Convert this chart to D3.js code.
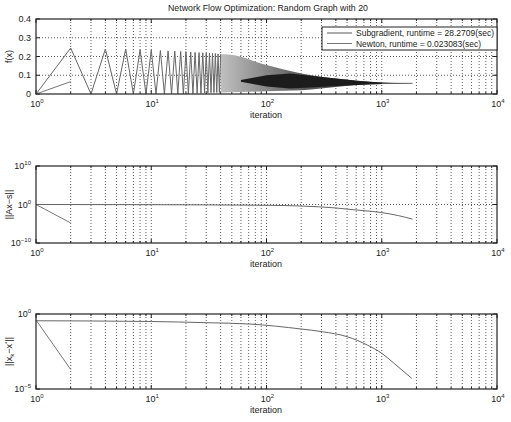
<!DOCTYPE html>
<html>
<head>
<meta charset="utf-8">
<script src="https://d3js.org/d3.v7.min.js"></script>
<style>
  body { margin: 0; background: #fff; }
  svg { font-family: "Liberation Sans", Arial, sans-serif; }
  .grid { stroke: #333; stroke-dasharray: 1,2; stroke-width: 0.8; }
</style>
</head>
<body>
<svg id="chart" width="511" height="422"></svg>
<script>
// --- data ---
const titleText = "Network Flow Optimization: Random Graph with 20";
const legendLabels = ["Subgradient, runtime = 28.2709(sec)", "Newton, runtime = 0.023083(sec)"];

// panel 1: f(x), subgradient early iterations (1..40), one value per iteration
const sgEarly = [0, 0.245, 0, 0.24, 0, 0.24, 0, 0.236, 0, 0.235,
                 0, 0.232, 0, 0.23, 0, 0.229, 0, 0.227, 0, 0.226,
                 0.001, 0.224, 0.002, 0.222, 0.003, 0.221, 0.004, 0.22, 0.005, 0.219,
                 0.006, 0.218, 0.007, 0.217, 0.008, 0.216, 0.008, 0.214, 0.008, 0.212];
// dense part of the subgradient oscillation: envelope (iteration, upper, lower)
const bandIter = [40, 48, 100, 200, 440, 800, 1850];
const bandHi   = [0.212, 0.21, 0.155, 0.11, 0.08, 0.064, 0.057];
const bandLo   = [0.008, 0.01, 0.015, 0.02, 0.04, 0.053, 0.057];
// darker core of the oscillation
const coreIter = [60, 100, 160, 315, 620, 1050, 1850];
const coreHi   = [0.075, 0.1, 0.11, 0.089, 0.071, 0.06, 0.057];
const coreLo   = [0.065, 0.04, 0.03, 0.039, 0.048, 0.053, 0.057];
const newtonF  = [[1, 0], [2, 0.066]];

// panel 2: ||Ax - s|| (log10 values)
const sgResIter = [1, 10, 100, 200, 400, 540, 700, 1000, 1400, 1850];
const sgResLog  = [0, -0.05, -0.2, -0.4, -0.9, -1.3, -1.6, -2.1, -2.9, -3.8];
const newtonRes = [[1, 0], [2, -4.8]];

// panel 3: ||x_k - x*|| (log10 values)
const sgErrIter = [1, 10, 30, 72, 200, 305, 500, 750, 1000, 1280, 1560, 1820];
const sgErrLog  = [-0.45, -0.5, -0.58, -0.67, -1.0, -1.18, -1.51, -2.07, -2.62, -3.29, -3.85, -4.29];
const newtonErr = [[1, -0.4], [2, -3.7]];

const xMajor = [0, 1, 2, 3, 4];

// --- layout ---
const svg = d3.select("#chart");
const x = d3.scaleLog().domain([1, 1e4]).range([36, 497]);
const panels = [
  {top: 19, bottom: 94},
  {top: 166, bottom: 243},
  {top: 314, bottom: 389}
];
const lineCol = "#666";
const axCol = "#222";

const xMinor = [];
xMajor.slice(0, -1).forEach(e => { for (let m = 2; m <= 9; m++) xMinor.push(m * Math.pow(10, e)); });

function tenLabel(g, xp, yp, exp, anchor) {
  const t = g.append("text").attr("x", xp).attr("y", yp)
    .attr("font-size", 9).attr("fill", axCol).attr("text-anchor", anchor);
  t.append("tspan").text("10");
  t.append("tspan").attr("dy", -4).attr("font-size", 6).text(exp);
}

function drawFrame(p, y, yTicks, yGrid, yLabelFn, ylabel) {
  const g = svg.append("g");
  const [x0, x1] = x.range();
  // vertical grid (major + minor)
  xMajor.slice(1, -1).concat(xMinor.map(v => Math.log10(v))).forEach(e => {
    const xp = x(Math.pow(10, e));
    g.append("line").attr("class", "grid")
      .attr("x1", xp).attr("x2", xp).attr("y1", p.top).attr("y2", p.bottom);
  });
  yGrid.forEach(v => {
    g.append("line").attr("class", "grid")
      .attr("x1", x0).attr("x2", x1).attr("y1", y(v)).attr("y2", y(v));
  });
  // ticks inside the box
  xMajor.map(e => Math.pow(10, e)).forEach(v => {
    const xp = x(v);
    g.append("line").attr("x1", xp).attr("x2", xp).attr("y1", p.bottom).attr("y2", p.bottom - 4).attr("stroke", axCol);
    g.append("line").attr("x1", xp).attr("x2", xp).attr("y1", p.top).attr("y2", p.top + 4).attr("stroke", axCol);
  });
  xMinor.forEach(v => {
    const xp = x(v);
    g.append("line").attr("x1", xp).attr("x2", xp).attr("y1", p.bottom).attr("y2", p.bottom - 2).attr("stroke", axCol);
    g.append("line").attr("x1", xp).attr("x2", xp).attr("y1", p.top).attr("y2", p.top + 2).attr("stroke", axCol);
  });
  yTicks.forEach(v => {
    g.append("line").attr("x1", x0).attr("x2", x0 + 4).attr("y1", y(v)).attr("y2", y(v)).attr("stroke", axCol);
    g.append("line").attr("x1", x1).attr("x2", x1 - 4).attr("y1", y(v)).attr("y2", y(v)).attr("stroke", axCol);
    yLabelFn(g, v);
  });
  // x tick labels
  xMajor.forEach(e => tenLabel(g, x(Math.pow(10, e)) + 1, p.bottom + 13, String(e), "middle"));
  g.append("text").attr("x", 266).attr("y", p.bottom + 24).attr("font-size", 9)
    .attr("fill", axCol).attr("text-anchor", "middle").text("iteration");
  // y label
  const yl = g.append("text")
    .attr("transform", `translate(12,${(p.top + p.bottom) / 2}) rotate(-90)`)
    .attr("font-size", 9).attr("fill", axCol).attr("text-anchor", "middle");
  ylabel(yl);
  return g;
}

function drawBox(p) {
  svg.append("rect").attr("x", x.range()[0]).attr("y", p.top)
    .attr("width", x.range()[1] - x.range()[0]).attr("height", p.bottom - p.top)
    .attr("fill", "none").attr("stroke", axCol).attr("stroke-width", 1.2);
}

// gradient for the packed oscillation (lines blend into grey as they get denser)
const grad = svg.append("defs").append("linearGradient").attr("id", "dense")
  .attr("gradientUnits", "userSpaceOnUse")
  .attr("x1", x(40)).attr("x2", x(220)).attr("y1", 0).attr("y2", 0);
grad.append("stop").attr("offset", 0).attr("stop-color", "#c0c0c0");
grad.append("stop").attr("offset", 1).attr("stop-color", "#555");

// ---------- panel 1 ----------
const p1 = panels[0];
const y1 = d3.scaleLinear().domain([0, 0.4]).range([p1.bottom, p1.top]);
drawFrame(p1, y1, [0, 0.1, 0.2, 0.3, 0.4], [0.1, 0.2, 0.3],
  (g, v) => g.append("text").attr("x", 31).attr("y", y1(v) + 3).attr("font-size", 9)
    .attr("fill", axCol).attr("text-anchor", "end").text(v === 0 ? "0" : d3.format(".1f")(v)),
  t => t.text("f(x)"));

const band = d3.area().x((d, i) => x(bandIter[i])).y0((d, i) => y1(bandLo[i])).y1((d, i) => y1(bandHi[i]))
  .curve(d3.curveMonotoneX);
svg.append("path").datum(bandIter).attr("d", band).attr("fill", "url(#dense)");
const core = d3.area().x((d, i) => x(coreIter[i])).y0((d, i) => y1(coreLo[i])).y1((d, i) => y1(coreHi[i]));
svg.append("path").datum(coreIter).attr("d", core).attr("fill", "#1c1c1c");
svg.append("path").datum(sgEarly)
  .attr("d", d3.line().x((d, i) => x(i + 1)).y(d => y1(d)))
  .attr("fill", "none").attr("stroke", lineCol).attr("stroke-width", 1);
svg.append("line").attr("x1", x(1000)).attr("x2", x(1850)).attr("y1", y1(0.057)).attr("y2", y1(0.057))
  .attr("stroke", lineCol);
svg.append("path").datum(newtonF)
  .attr("d", d3.line().x(d => x(d[0])).y(d => y1(d[1])))
  .attr("fill", "none").attr("stroke", "#777").attr("stroke-width", 1);
drawBox(p1);

// legend
const lg = svg.append("g");
lg.append("rect").attr("x", 322).attr("y", 27).attr("width", 175).attr("height", 23)
  .attr("fill", "#fff").attr("stroke", axCol).attr("stroke-width", 1);
legendLabels.forEach((lab, i) => {
  const yy = 33 + i * 10.5;
  lg.append("line").attr("x1", 327).attr("x2", 352).attr("y1", yy).attr("y2", yy)
    .attr("stroke", i === 0 ? "#555" : "#777").attr("stroke-width", 1);
  lg.append("text").attr("x", 356).attr("y", yy + 3).attr("font-size", 8.5)
    .attr("textLength", i === 0 ? 138 : 125).attr("lengthAdjust", "spacingAndGlyphs")
    .attr("fill", axCol).text(lab);
});

// title
svg.append("text").attr("x", 268).attr("y", 11).attr("font-size", 8.8).attr("fill", axCol)
  .attr("text-anchor", "middle").text(titleText);

// ---------- panel 2 ----------
const p2 = panels[1];
const y2 = d3.scaleLinear().domain([-10, 10]).range([p2.bottom, p2.top]);
drawFrame(p2, y2, [-10, 0, 10], [0],
  (g, v) => tenLabel(g, 31, y2(v) + 3, v === 0 ? "0" : (v < 0 ? "\u221210" : "10"), "end"),
  t => t.text("||Ax\u2212s||"));
svg.append("path").datum(sgResIter)
  .attr("d", d3.line().x(d => x(d)).y((d, i) => y2(sgResLog[i])).curve(d3.curveMonotoneX))
  .attr("fill", "none").attr("stroke", lineCol).attr("stroke-width", 1);
svg.append("path").datum(newtonRes)
  .attr("d", d3.line().x(d => x(d[0])).y(d => y2(d[1])))
  .attr("fill", "none").attr("stroke", "#777").attr("stroke-width", 1);
drawBox(p2);

// ---------- panel 3 ----------
const p3 = panels[2];
const y3 = d3.scaleLinear().domain([-5, 0]).range([p3.bottom, p3.top]);
drawFrame(p3, y3, [-5, 0], [],
  (g, v) => tenLabel(g, 31, y3(v) + 3, v === 0 ? "0" : "\u22125", "end"),
  t => {
    t.append("tspan").text("||x");
    t.append("tspan").attr("font-size", 6).attr("dy", 2).text("k");
    t.append("tspan").attr("dy", -2).text("\u2212x");
    t.append("tspan").attr("font-size", 6).attr("dy", -3).text("*");
    t.append("tspan").attr("dy", 3).text("||");
  });
svg.append("path").datum(sgErrIter)
  .attr("d", d3.line().x(d => x(d)).y((d, i) => y3(sgErrLog[i])).curve(d3.curveMonotoneX))
  .attr("fill", "none").attr("stroke", lineCol).attr("stroke-width", 1);
svg.append("path").datum(newtonErr)
  .attr("d", d3.line().x(d => x(d[0])).y(d => y3(d[1])))
  .attr("fill", "none").attr("stroke", "#777").attr("stroke-width", 1);
drawBox(p3);
</script>
</body>
</html>
